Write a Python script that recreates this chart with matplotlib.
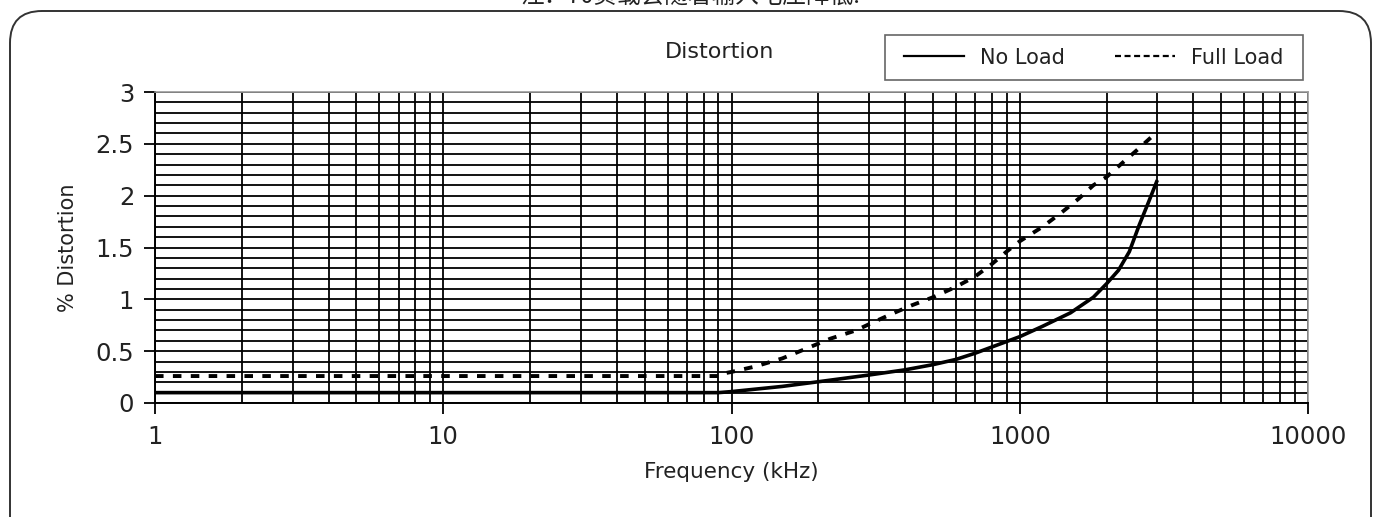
import matplotlib
matplotlib.use("Agg")
import matplotlib.pyplot as plt
from matplotlib.lines import Line2D
from matplotlib.patches import FancyBboxPatch, Rectangle
from matplotlib.ticker import FixedLocator, LogLocator, MultipleLocator, NullFormatter

# data
freq_no_load = [1, 90, 100, 150, 200, 300, 400, 500, 600, 700, 800, 1000,
                1200, 1500, 1800, 2000, 2200, 2400, 2600, 2800, 3000]
no_load = [0.10, 0.10, 0.11, 0.16, 0.205, 0.27, 0.32, 0.37, 0.42, 0.48, 0.54, 0.64,
           0.74, 0.87, 1.02, 1.15, 1.28, 1.46, 1.72, 1.94, 2.15]

freq_full_load = [1, 90, 92, 100, 120, 150, 180, 220, 270, 300, 360, 420, 500, 600,
                  700, 800, 900, 1000, 1200, 1400, 1600, 1800, 2000, 2300, 2600, 2900, 3000]
full_load = [0.26, 0.26, 0.28, 0.30, 0.35, 0.43, 0.52, 0.62, 0.70, 0.76, 0.86, 0.94, 1.02, 1.12,
             1.22, 1.34, 1.46, 1.56, 1.70, 1.84, 1.97, 2.10, 2.18, 2.33, 2.46, 2.58, 2.61]

x_ticks = [1, 10, 100, 1000, 10000]
x_tick_labels = ["1", "10", "100", "1000", "10000"]
y_ticks = [0, 0.5, 1, 1.5, 2, 2.5, 3]
y_tick_labels = ["0", "0.5", "1", "1.5", "2", "2.5", "3"]

note_text = "注：70负载会随着输入电压降低."

plt.rcParams["font.family"] = ["DejaVu Sans"]

W, H = 1381, 517
fig = plt.figure(figsize=(W / 100, H / 100), dpi=100)
fig.patch.set_facecolor("white")

# note at the very top, cut by the screenshot edge as in the source
fig.text(690 / W, 1 + 4 / H, note_text, ha="center", va="center", fontsize=17,
         color="#222222", family=["Noto Sans CJK SC", "DejaVu Sans"])

# rounded frame (pixel coords)
frame = FancyBboxPatch((10, -40), W - 20, H - 11 + 40, boxstyle="round,pad=0,rounding_size=32",
                       transform=None, facecolor="none", edgecolor="#333333", linewidth=1.4)
fig.add_artist(frame)

ax = fig.add_axes([155 / W, 1 - 403 / H, (1308 - 155) / W, (403 - 92) / H])
ax.set_xscale("log")
ax.set_xlim(1, 10000)
ax.set_ylim(0, 3)

ax.xaxis.set_major_locator(FixedLocator(x_ticks))
ax.set_xticklabels(x_tick_labels)
ax.xaxis.set_minor_locator(LogLocator(base=10, subs=range(2, 10)))
ax.xaxis.set_minor_formatter(NullFormatter())
ax.yaxis.set_major_locator(FixedLocator(y_ticks))
ax.set_yticklabels(y_tick_labels)
ax.yaxis.set_minor_locator(MultipleLocator(0.1))

ax.grid(which="both", color="black", linewidth=1.3)
ax.set_axisbelow(True)
ax.tick_params(which="minor", length=0)
ax.tick_params(which="major", length=8, width=1.3, color="black",
               labelsize=17.5, labelcolor="#222222")
ax.tick_params(axis="y", pad=7)
ax.tick_params(axis="x", pad=8)

for s in ["left", "bottom"]:
    ax.spines[s].set_color("black")
    ax.spines[s].set_linewidth(1.4)
for s in ["top", "right"]:
    ax.spines[s].set_color("#999999")
    ax.spines[s].set_linewidth(1.2)

ax.plot(freq_no_load, no_load, color="black", linewidth=2.6, solid_capstyle="butt")
ax.plot(freq_full_load, full_load, color="black", linewidth=2.8, dashes=(2.2, 2.4))

ax.set_xlabel("Frequency (kHz)", fontsize=15.5, color="#222222")
ax.set_ylabel("% Distortion", fontsize=15, color="#222222")
ax.xaxis.set_label_coords(0.5, -0.19)
ax.yaxis.set_label_coords((78 - 155) / (1308 - 155), 0.5)

fig.text(720 / W, 1 - 52 / H, "Distortion", ha="center", va="center",
         fontsize=16, color="#222222")

# legend box drawn separately, entries centred inside it
box = Rectangle((885, H - 80), 1303 - 885, 45, transform=None, facecolor="white",
                edgecolor="#666666", linewidth=1.2)
fig.add_artist(box)
handles = [Line2D([], [], color="black", linewidth=1.6),
           Line2D([], [], color="black", linewidth=1.6, dashes=(2.7, 1.6))]
leg = fig.legend(handles, ["No Load", "Full Load"], ncol=2, loc="center",
                 bbox_to_anchor=(1094 / W, 1 - 57.5 / H),
                 frameon=False, fontsize=15,
                 handlelength=2.85, handletextpad=0.8, columnspacing=2.4)
for t in leg.get_texts():
    t.set_color("#222222")

fig.savefig("out.png", dpi=100)
